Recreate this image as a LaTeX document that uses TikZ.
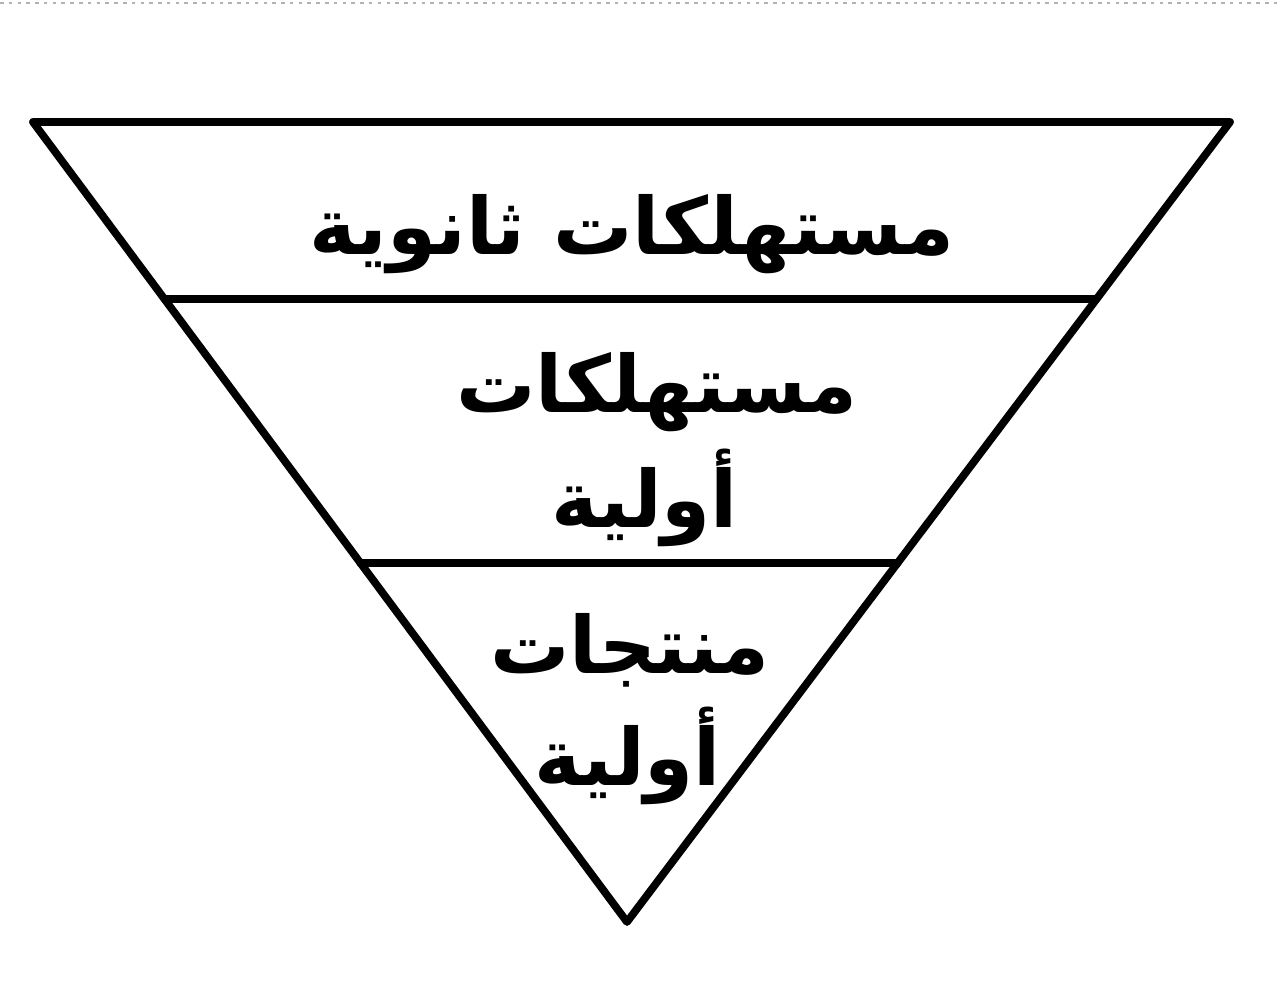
\documentclass[tikz,border=0pt]{standalone}
\usepackage{fontspec}
\newfontfamily\arabicfont[Script=Arabic]{DejaVu Sans}
\TeXXeTstate=1
\usetikzlibrary{calc}
\begin{document}
\begin{tikzpicture}[x=0.02cm,y=-0.02cm,
  edge/.style={line width=4.4pt,line join=round,line cap=round,black},
  lbl/.style={font=\arabicfont\bfseries\fontsize{45}{52}\selectfont,inner sep=0pt}]
\useasboundingbox (0,0) rectangle (1280,1003);
\draw[gray!60,line width=1.2pt,dash pattern=on 2pt off 3pt] (0,3) -- (1280,3);
\coordinate (A) at (33,122);
\coordinate (B) at (1230,122);
\coordinate (C) at (627,922);
\draw[edge] (A) -- (B) -- (C) -- cycle;
\coordinate (L1) at ($(A)!0.2217!(C)$);
\coordinate (R1) at ($(B)!0.2217!(C)$);
\coordinate (L2) at ($(A)!0.551!(C)$);
\coordinate (R2) at ($(B)!0.551!(C)$);
\draw[edge] (L1) -- (R1);
\draw[edge] (L2) -- (R2);
\node[lbl] (t1) at (632,234) {\beginR مستهلكات ثانوية\endR};
\node[lbl] (t2) at (657,392) {\beginR مستهلكات\endR};
\node[lbl] (t3) at (645,498) {\beginR أولية\endR};
\node[lbl] (t4) at (630,650) {\beginR منتجات\endR};
\node[lbl] (t5) at (628,756) {\beginR أولية\endR};
\end{tikzpicture}
\end{document}
